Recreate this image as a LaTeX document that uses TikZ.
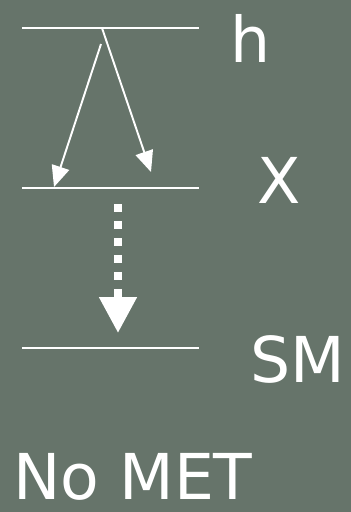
\documentclass[tikz,border=0pt]{standalone}
\usepackage{fontspec}
\setmainfont{DejaVu Sans}
\usetikzlibrary{positioning,calc,arrows.meta}

\begin{document}
\begin{tikzpicture}[x=0.02cm,y=-0.02cm,
    level/.style={draw=white,line width=1.2pt},
    lbl/.style={text=white,anchor=base,inner sep=0pt,font=\fontsize{36}{40}\selectfont},
    decay/.style={-{Triangle[length=0.42cm,width=0.36cm]},white,line width=1.1pt},
    cascade/.style={-{Triangle[length=0.72cm,width=0.72cm]},white,line width=4.5pt,
        dash pattern=on 0.16cm off 0.18cm}]

% background
\fill[fill={rgb,255:red,102;green,116;blue,106}] (0,0) rectangle (351,512);
\useasboundingbox (0,0) rectangle (351,512);

% levels
\coordinate (hL) at (22,28);  \coordinate (hR) at (199,28);
\coordinate (xL) at (22,188); \coordinate (xR) at (199,188);
\coordinate (sL) at (22,348); \coordinate (sR) at (199,348);
\draw[level] (hL) -- (hR);
\draw[level] (xL) -- (xR);
\draw[level] (sL) -- (sR);

% labels
\node[lbl] (h) at (251,62) {h};
\node[lbl] (X) at (279,203) {X};
\node[lbl] (SM) at (298,382) {SM};
\node[lbl,anchor=base west] (met) at (13,499) {No MET};

% decays
\coordinate (top) at (102,28);
\coordinate (top2) at (101,44);
\coordinate (tipR) at (151,172);
\coordinate (tipL) at (54,187);
\draw[decay] (top) -- (tipR);
\draw[decay] (top2) -- (tipL);

\coordinate (dtop) at (118,204);
\coordinate (dbot) at (118,333);
\draw[cascade] (dtop) -- (dbot);

\end{tikzpicture}
\end{document}
